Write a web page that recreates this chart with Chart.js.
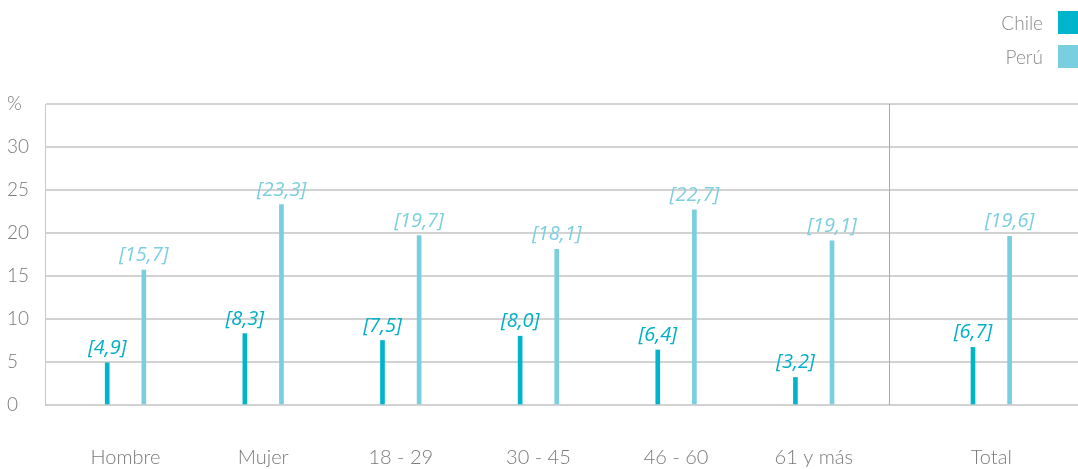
<!DOCTYPE html>
<html lang="es">
<head>
<meta charset="utf-8">
<title>Chile y Perú por grupo</title>
<script src="https://cdn.jsdelivr.net/npm/chart.js@4.4.1/dist/chart.umd.min.js"></script>
<style>
  html, body { margin: 0; padding: 0; background: #fff; }
  #wrap { position: relative; width: 1078px; height: 469px; }
  #legend { position: absolute; right: 0; top: 11px; font-family: "Lato", "Open Sans", sans-serif; font-weight: 300; font-size: 19px; color: #8a8a8a; }
  .item { display: flex; align-items: center; justify-content: flex-end; height: 23px; margin-bottom: 11px; }
  .swatch { display: inline-block; width: 20px; height: 23px; margin-left: 15px; }
</style>
</head>
<body>
<div id="wrap">
  <canvas id="chart" width="1078" height="469"></canvas>
  <div id="legend"></div>
</div>
<script>
// Categories and values (percent)
const categories = ["Hombre", "Mujer", "18 - 29", "30 - 45", "46 - 60", "61 y más", "Total"];
const chileValues = [4.9, 8.3, 7.5, 8.0, 6.4, 3.2, 6.7];
const peruValues = [15.7, 23.3, 19.7, 18.1, 22.7, 19.1, 19.6];
const seriesNames = ["Chile", "Perú"];
const yTicks = [0, 5, 10, 15, 20, 25, 30, 35];

// Layout: where each group sits along the horizontal axis (Total set apart)
const slots = [0, 1, 2, 3, 4, 5, 6.29];
const dividerAt = 5.55;
const pairOffset = 0.133;

const colors = { chile: "#00b4cc", peru: "#79cfdf" };
const chileLabel = "#00afc8";
const peruLabel = "#7bcfdf";

const fmt = v => v.toFixed(1).replace(".", ",");

const legend = document.getElementById("legend");
[[seriesNames[0], colors.chile], [seriesNames[1], colors.peru]].forEach(([name, col]) => {
  const d = document.createElement("div");
  d.className = "item";
  d.innerHTML = `<span>${name}</span><span class="swatch" style="background:${col}"></span>`;
  legend.appendChild(d);
});

const valueLabels = {
  id: "valueLabels",
  afterDatasetsDraw(chart) {
    const ctx = chart.ctx;
    ctx.save();
    ctx.font = "italic 20px 'Open Sans', sans-serif";
    ctx.textAlign = "center";
    ctx.textBaseline = "alphabetic";
    chart.data.datasets.forEach((ds, di) => {
      ctx.fillStyle = di === 0 ? chileLabel : peruLabel;
      chart.getDatasetMeta(di).data.forEach((bar, i) => {
        ctx.fillText("[" + fmt(ds.data[i].y) + "]", bar.x, bar.y - 9);
      });
    });
    ctx.restore();
  }
};

const divider = {
  id: "divider",
  beforeDatasetsDraw(chart) {
    const { ctx, chartArea, scales } = chart;
    const x = Math.round(scales.x.getPixelForValue(dividerAt)) + 0.5;
    ctx.save();
    ctx.strokeStyle = "#aaaaaa";
    ctx.lineWidth = 1;
    ctx.beginPath();
    ctx.moveTo(x, chartArea.top);
    ctx.lineTo(x, chartArea.bottom);
    ctx.stroke();
    ctx.restore();
  }
};

new Chart(document.getElementById("chart"), {
  type: "bar",
  data: {
    datasets: [
      {
        label: seriesNames[0],
        data: chileValues.map((v, i) => ({ x: slots[i] - pairOffset, y: v })),
        backgroundColor: colors.chile
      },
      {
        label: seriesNames[1],
        data: peruValues.map((v, i) => ({ x: slots[i] + pairOffset, y: v })),
        backgroundColor: colors.peru
      }
    ]
  },
  options: {
    responsive: false,
    animation: false,
    layout: { padding: { left: 7, top: 104, right: 0, bottom: 0 } },
    datasets: { bar: { grouped: false, barThickness: 4, borderWidth: 0 } },
    plugins: { legend: { display: false }, tooltip: { enabled: false } },
    scales: {
      x: {
        type: "linear",
        offset: false,
        min: -0.585,
        max: 6.92,
        grid: { display: false, drawTicks: false },
        border: { display: false },
        afterBuildTicks: s => { s.ticks = slots.map(v => ({ value: v })); },
        afterFit: s => { s.height = 64; s.paddingLeft = 0; s.paddingRight = 0; },
        ticks: {
          autoSkip: false,
          maxRotation: 0,
          padding: 41,
          color: "#7a7a7a",
          font: { family: "'Lato', 'Open Sans', sans-serif", size: 20, weight: 300 },
          callback: (v, i) => categories[i]
        }
      },
      y: {
        min: 0,
        max: 35,
        afterBuildTicks: s => { s.ticks = yTicks.map(v => ({ value: v })); },
        afterFit: s => { s.width = 38; },
        grid: { color: "#d2d2d2", lineWidth: 2, drawTicks: false },
        border: { display: true, color: "#c8c8c8", width: 1 },
        ticks: {
          crossAlign: "far",
          padding: 0,
          color: "#7a7a7a",
          font: { family: "'Lato', 'Open Sans', sans-serif", size: 19, weight: 300 },
          callback: v => (v === 35 ? "%" : String(v))
        }
      }
    }
  },
  plugins: [divider, valueLabels]
});
</script>
</body>
</html>
